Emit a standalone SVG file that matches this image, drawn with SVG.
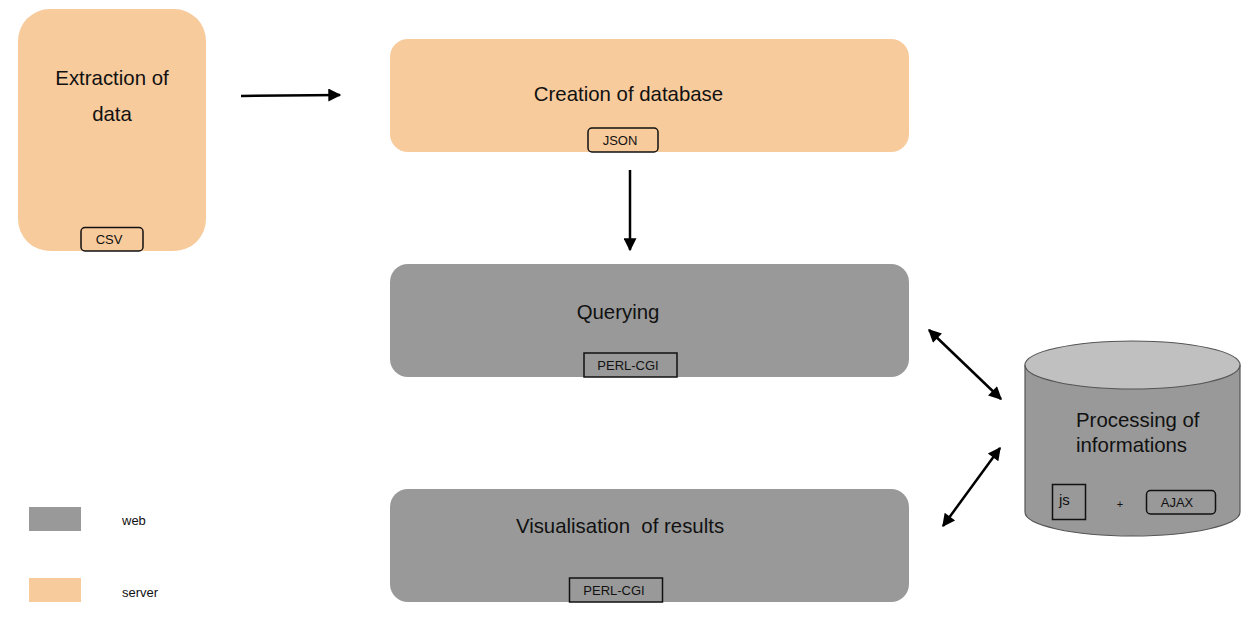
<svg xmlns="http://www.w3.org/2000/svg" width="1259" height="621" viewBox="0 0 1259 621">
<style>
text{font-family:"Liberation Sans",Arial,sans-serif;fill:#111}
.big{font-size:20.4px}
.small{font-size:13px}
.srv{fill:#f8cb9d}
.web{fill:#999999}
.tag{fill:none;stroke:#111;stroke-width:1.5}
.conn{stroke:#000;stroke-width:2.5;fill:none}
</style>
<defs>
<marker id="ah2" viewBox="0 0 10 10" refX="9" refY="5" markerWidth="19" markerHeight="13" orient="auto-start-reverse" markerUnits="userSpaceOnUse">
<path d="M0,0 L10,5 L0,10 z" fill="#000"/>
</marker>
</defs>
<rect width="1259" height="621" fill="#fff"/>

<g id="extraction">
<rect class="srv" x="18" y="9" width="188" height="242" rx="32"/>
<text class="big" x="112" y="85" text-anchor="middle">Extraction of</text>
<text class="big" x="112" y="121" text-anchor="middle">data</text>
<rect class="tag" x="81" y="227.5" width="62" height="23.5" rx="4"/>
<text class="small" x="109" y="244" text-anchor="middle">CSV</text>
</g>

<g id="creation">
<rect class="srv" x="390" y="39" width="519" height="113" rx="18"/>
<text class="big" x="628.5" y="101" text-anchor="middle">Creation of database</text>
<rect class="tag" x="588" y="128" width="70" height="24" rx="4"/>
<text class="small" x="620" y="145" text-anchor="middle">JSON</text>
</g>

<g id="querying">
<rect class="web" x="390" y="264" width="519" height="113" rx="18"/>
<text class="big" x="618" y="319" text-anchor="middle">Querying</text>
<rect class="tag" x="584" y="353" width="93" height="24"/>
<text class="small" x="628" y="370" text-anchor="middle">PERL-CGI</text>
</g>

<g id="visualisation">
<rect class="web" x="390" y="489" width="519" height="113" rx="18"/>
<text class="big" x="620" y="533" text-anchor="middle" xml:space="preserve">Visualisation  of results</text>
<rect class="tag" x="569.5" y="578" width="93" height="24"/>
<text class="small" x="614" y="595" text-anchor="middle">PERL-CGI</text>
</g>

<g id="processing">
<path d="M1025,365 L1025,512 A107.5,24 0 0 0 1240,512 L1240,365" fill="#999999" stroke="#555" stroke-width="1.2"/>
<ellipse cx="1132.5" cy="365" rx="107.5" ry="24" fill="#c0c0c0" stroke="#555" stroke-width="1.2"/>
<text class="big" x="1076" y="427">Processing of</text>
<text class="big" x="1076" y="452">informations</text>
<rect class="tag" x="1052.5" y="484.5" width="33" height="35"/>
<text x="1059" y="505" style="font-size:15px">js</text>
<text x="1120" y="508" style="font-size:11px" text-anchor="middle">+</text>
<rect class="tag" x="1146.5" y="490.5" width="69" height="23.5" rx="4"/>
<text class="small" x="1177" y="507" text-anchor="middle">AJAX</text>
</g>

<g id="legend">
<rect class="web" x="29" y="507" width="52" height="24"/>
<text class="small" x="122" y="525">web</text>
<rect class="srv" x="29" y="578" width="52" height="24"/>
<text class="small" x="122" y="597">server</text>
</g>

<g id="connectors">
<line class="conn" x1="241" y1="96" x2="340" y2="95" marker-end="url(#ah2)"/>
<line class="conn" x1="630" y1="170" x2="630" y2="250" marker-end="url(#ah2)"/>
<line class="conn" x1="929" y1="330" x2="1001" y2="399" marker-start="url(#ah2)" marker-end="url(#ah2)"/>
<line class="conn" x1="1000" y1="448" x2="943" y2="526" marker-start="url(#ah2)" marker-end="url(#ah2)"/>
</g>
</svg>
